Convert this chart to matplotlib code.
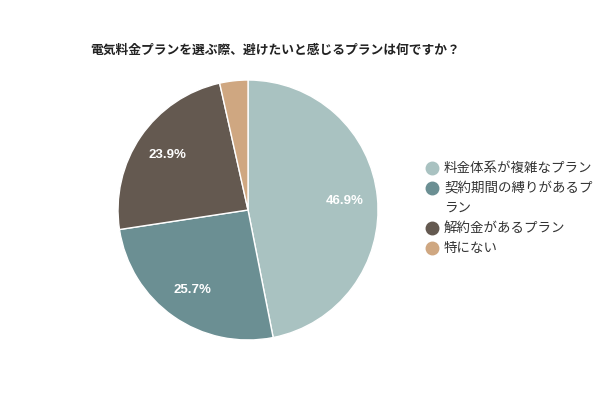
import matplotlib
matplotlib.use("Agg")
import matplotlib.pyplot as plt
from matplotlib.lines import Line2D

plt.rcParams["font.family"] = ["Noto Sans CJK JP", "DejaVu Sans"]

TITLE = "電気料金プランを選ぶ際、避けたいと感じるプランは何ですか？"
labels = ["料金体系が複雑なプラン", "契約期間の縛りがあるプラン", "解約金があるプラン", "特にない"]
values = [46.9, 25.7, 23.9, 3.5]
colors = ["#a9c2c1", "#6b8f93", "#645950", "#cfa781"]


def wrap(s, n=11):
    # 凡例の折り返し (元図と同じ幅で改行)
    return [s] if len(s) <= n else [s[:n], s[n:]]


W, H = 600, 400
fig = plt.figure(figsize=(6, 4), dpi=100)
ax = fig.add_axes([0.1967, 0.15, 0.4333, 0.65])
wedges, texts, autotexts = ax.pie(
    values, colors=colors, startangle=90, counterclock=False,
    autopct=lambda p: f"{p:.1f}%" if p > 5 else "", pctdistance=0.75,
    wedgeprops=dict(edgecolor="white", linewidth=1),
    textprops=dict(color="white", fontsize=9.5, fontweight="bold",
                   family=["Liberation Sans", "DejaVu Sans"]),
)
ax.set_xlim(-1, 1); ax.set_ylim(-1, 1)
ax.set_aspect("equal")

fig.text(90 / W, 1 - 50 / H, TITLE, fontsize=9.2, fontweight="bold",
         color="#222222", ha="left", va="center")

# 凡例は手で並べる (1行 20px)
y = 168
for lab, c in zip(labels, colors):
    fig.add_artist(Line2D([432 / W], [1 - y / H], marker="o", ls="",
                          markersize=9, markerfacecolor=c, markeredgecolor=c))
    for line in wrap(lab):
        fig.text(444 / W, 1 - y / H, line, fontsize=9.7, color="#333333",
                 ha="left", va="center")
        y += 20

fig.savefig("out.png", dpi=100)
